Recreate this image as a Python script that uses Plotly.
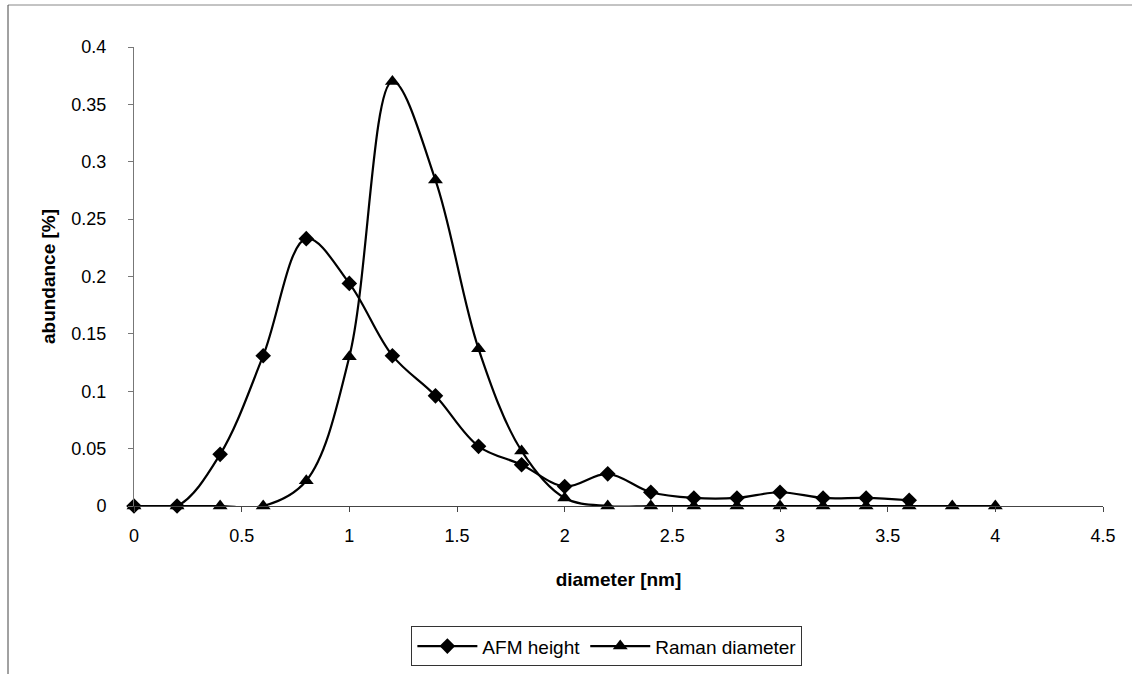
import plotly.graph_objects as go

# data
afm_x = [0, 0.2, 0.4, 0.6, 0.8, 1.0, 1.2, 1.4, 1.6, 1.8, 2.0, 2.2, 2.4, 2.6, 2.8, 3.0, 3.2, 3.4, 3.6]
afm_y = [0, 0, 0.045, 0.131, 0.233, 0.194, 0.131, 0.096, 0.052, 0.036, 0.017, 0.028, 0.012, 0.007, 0.007, 0.012, 0.007, 0.007, 0.005]
raman_x = [0, 0.2, 0.4, 0.6, 0.8, 1.0, 1.2, 1.4, 1.6, 1.8, 2.0, 2.2, 2.4, 2.6, 2.8, 3.0, 3.2, 3.4, 3.6, 3.8, 4.0]
raman_y = [0, 0, 0, 0, 0.022, 0.130, 0.370, 0.284, 0.137, 0.048, 0.007, 0, 0, 0, 0, 0, 0, 0, 0, 0, 0]
x_ticks = [0, 0.5, 1, 1.5, 2, 2.5, 3, 3.5, 4, 4.5]
y_ticks = [0, 0.05, 0.1, 0.15, 0.2, 0.25, 0.3, 0.35, 0.4]

FONT = "Liberation Sans, Arial, sans-serif"

fig = go.Figure()
fig.add_trace(go.Scatter(
    x=afm_x, y=afm_y, name="AFM height", mode="lines+markers",
    line=dict(color="black", width=2.2, shape="spline", smoothing=1),
    marker=dict(symbol="diamond", size=12, color="black"),
    cliponaxis=False,
))
fig.add_trace(go.Scatter(
    x=raman_x, y=raman_y, name="Raman diameter", mode="lines+markers",
    line=dict(color="black", width=2.2, shape="spline", smoothing=1),
    marker=dict(symbol="triangle-up", size=13, color="black"),
    cliponaxis=False,
))

W, H = 1132, 674
L, R, T, B = 134, 29, 47, 168

fig.update_layout(
    width=W, height=H,
    margin=dict(l=L, r=R, t=T, b=B, pad=0, autoexpand=False),
    paper_bgcolor="white", plot_bgcolor="white",
    font=dict(family=FONT, size=18, color="black"),
    showlegend=True,
    legend=dict(
        orientation="h", x=0.488, xanchor="center", y=-0.262, yanchor="top",
        bordercolor="#333", borderwidth=1, bgcolor="white",
        font=dict(family=FONT, size=19, color="black"),
        itemwidth=60, tracegroupgap=0,
    ),
    xaxis=dict(
        range=[0, 4.5], tickvals=x_ticks, ticktext=[f"{v:g}" for v in x_ticks],
        showgrid=False, zeroline=False, showline=True, linecolor="#444", linewidth=1,
        ticks="outside", ticklen=5, tickcolor="#444", ticklabelstandoff=8,
        automargin=False,
        title=dict(text="<b>diameter [nm]</b>", font=dict(family=FONT, size=19), standoff=28),
        tickfont=dict(family=FONT, size=18),
    ),
    yaxis=dict(
        range=[0, 0.4], tickvals=y_ticks, ticktext=[f"{v:g}" for v in y_ticks],
        showgrid=False, zeroline=False, showline=True, linecolor="#777", linewidth=1,
        ticks="outside", ticklen=5, tickcolor="#777", ticklabelstandoff=18,
        automargin=False,
        title=dict(text="<b>abundance [%]</b>", font=dict(family=FONT, size=19), standoff=10),
        tickfont=dict(family=FONT, size=18),
    ),
)

# outer chart border (top and left edges visible in the reference)
fig.add_shape(type="line", xref="paper", yref="paper",
              x0=(8 - L) / (W - L - R), x1=1.0 + R / (W - L - R),
              y0=1 + (T - 5) / (H - T - B), y1=1 + (T - 5) / (H - T - B),
              line=dict(color="#888", width=1))
fig.add_shape(type="line", xref="paper", yref="paper",
              x0=(8 - L) / (W - L - R), x1=(8 - L) / (W - L - R),
              y0=1 + (T - 5) / (H - T - B), y1=-B / (H - T - B),
              line=dict(color="#444", width=1))

fig.write_html("out.html")
